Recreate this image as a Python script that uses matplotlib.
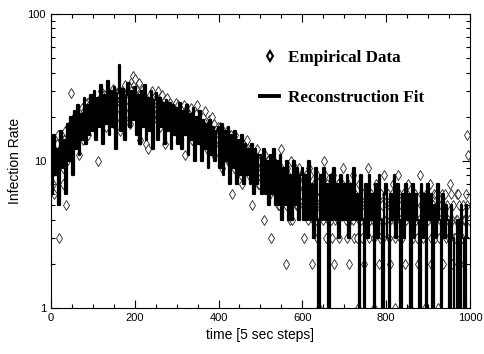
import numpy as np
import matplotlib
matplotlib.use("Agg")
import matplotlib.pyplot as plt
from matplotlib.ticker import LogLocator, NullFormatter, MultipleLocator

# empirical infection counts, every 2nd step
empirical = [
    8, 11, 12, 7, 6, 9, 10, 13, 15, 9, 3, 12, 11, 14, 9, 7, 14, 16, 5, 10,
    17, 13, 12, 15, 29, 16, 18, 20, 13, 17, 16, 14, 20, 22, 11, 19, 19, 23, 14, 21,
    22, 18, 17, 25, 15, 20, 24, 26, 19, 21,
    21, 23, 25, 19, 18, 24, 10, 22, 23, 27, 30, 25, 20, 28, 26, 21, 17, 29, 28, 24,
    24, 20, 22, 26, 31, 18, 19, 27, 25, 29, 29, 23, 16, 25, 27, 30, 23, 19, 33, 28,
    21, 24, 26, 32, 18, 22, 30, 35, 38, 33,
    36, 31, 22, 26, 27, 34, 14, 29, 25, 23, 31, 27, 20, 26, 13, 24, 12, 22, 28, 25,
    23, 30, 19, 27, 26, 21, 21, 24, 30, 26, 17, 22, 24, 28, 22, 19, 13, 23, 27, 20,
    20, 24, 25, 18, 18, 22, 23, 20, 21, 25,
    19, 22, 24, 21, 16, 20, 22, 18, 20, 24, 11, 19, 23, 20, 18, 16, 21, 23, 14, 19,
    20, 17, 17, 21, 24, 19, 15, 18, 19, 14, 13, 20, 18, 16, 22, 15, 12, 17, 17, 19,
    15, 13, 20, 16, 11, 18, 16, 14, 14, 17,
    13, 15, 17, 12, 9, 16, 15, 11, 12, 14, 16, 10, 10, 13, 14, 15, 6, 11, 12, 9,
    15, 13, 9, 12, 13, 11, 11, 8, 7, 10, 12, 13, 10, 9, 14, 11, 8, 12, 11, 10,
    5, 9, 10, 8, 9, 11, 12, 7, 7, 10,
    10, 9, 8, 7, 4, 9, 11, 8, 7, 10, 9, 6, 3, 8, 8, 10, 10, 7, 6, 9,
    9, 5, 5, 8, 12, 9, 7, 6, 8, 7, 2, 5, 9, 8, 6, 4, 10, 7, 4, 6,
    7, 9, 8, 5, 5, 7, 9, 6, 6, 8,
    7, 5, 3, 6, 8, 7, 5, 4, 9, 8, 6, 5, 2, 4, 7, 6, 4, 3, 8, 5,
    1, 5, 6, 7, 5, 4, 10, 8, 3, 5, 7, 4, 6, 5, 4, 3, 8, 6, 2, 4,
    5, 6, 7, 4, 3, 5, 6, 7, 9, 5,
    5, 6, 4, 3, 7, 5, 2, 4, 6, 5, 8, 4, 3, 6, 5, 3, 1, 4, 7, 5,
    4, 3, 6, 5, 2, 4, 5, 6, 9, 5, 3, 4, 6, 5, 4, 3, 1, 4, 7, 6,
    5, 4, 2, 3, 6, 5, 3, 4, 8, 6,
    4, 5, 6, 3, 2, 4, 5, 6, 7, 4, 1, 3, 4, 5, 8, 6, 3, 4, 5, 3,
    6, 5, 2, 4, 4, 6, 7, 5, 1, 4, 5, 3, 3, 4, 6, 5, 4, 3, 2, 4,
    8, 6, 5, 4, 3, 5, 1, 4, 6, 5,
    4, 5, 7, 3, 2, 4, 5, 6, 3, 4, 6, 5, 1, 3, 4, 5, 5, 6, 2, 4,
    6, 4, 3, 5, 4, 3, 7, 6, 2, 4, 5, 3, 3, 4, 4, 6, 6, 5, 2, 3,
    3, 4, 5, 4, 4, 6, 15, 5, 11, 4,
]
t_emp = np.arange(0, 1000, 2)
assert len(empirical) == len(t_emp)

# reconstructed rate, every 4th step
fit = [
    13, 6, 15, 8, 12, 5, 16, 9, 14, 6, 18, 10, 20, 8, 22, 12, 24, 11, 21, 14, 27, 13, 24, 15, 28,
    16, 30, 14, 27, 17, 33, 13, 28, 18, 35, 15, 30, 17, 32, 12, 29, 45, 16, 31, 14, 28, 34, 17, 30, 19,
    32, 15, 28, 13, 30, 17, 33, 14, 27, 16, 30, 12, 26, 29, 14, 27, 17, 25, 13, 26, 16, 25, 12, 24, 15,
    23, 13, 25, 12, 22, 15, 24, 11, 21, 14, 23, 10, 20, 13, 22, 10, 19, 12, 18, 9, 19, 11, 17, 10, 16,
    17, 9, 18, 8, 16, 10, 17, 7, 15, 9, 16, 7, 14, 8, 15, 7, 13, 8, 12, 7, 13, 6, 12, 7, 11,
    11, 6, 12, 6, 10, 5, 11, 6, 12, 5, 10, 5, 11, 4, 9, 5, 10, 4, 8, 4, 10, 5, 9, 4, 8,
    9, 4, 8, 4, 10, 4, 7, 3, 9, 4, 0, 8, 4, 9, 4, 7, 0, 8, 4, 9, 4, 7, 3, 8, 4,
    7, 4, 8, 3, 7, 4, 9, 4, 6, 0, 8, 4, 0, 7, 3, 8, 4, 6, 0, 7, 3, 8, 4, 0, 6,
    7, 3, 0, 6, 4, 8, 3, 7, 4, 0, 6, 3, 7, 4, 6, 0, 7, 3, 6, 4, 0, 7, 3, 6, 0,
    7, 4, 6, 0, 5, 3, 7, 4, 0, 6, 3, 5, 4, 0, 5, 3, 0, 0, 4, 0, 5, 3, 0, 5, 3,
]
t_fit = np.arange(0, 1000, 4)

fig = plt.figure(figsize=(4.85, 3.54), dpi=100)
ax = fig.add_axes([0.105, 0.130, 0.864, 0.830])

ax.plot(t_emp, empirical, linestyle='None', marker='d', markersize=5.2, mfc='white', mec='#222222',
        mew=0.6, label='Empirical Data', zorder=1)
ax.plot(t_fit, fit, color='black', lw=1.6, drawstyle='steps-mid', label='Reconstruction Fit', zorder=2)

ax.set_yscale('log')
ax.set_xlim(0, 1000)
ax.set_ylim(1, 100)

ax.xaxis.set_major_locator(MultipleLocator(200))
ax.xaxis.set_minor_locator(MultipleLocator(50))
ax.yaxis.set_minor_locator(LogLocator(subs=np.arange(2, 10)))
ax.yaxis.set_minor_formatter(NullFormatter())
ax.set_yticks([1, 10, 100])
ax.set_yticklabels(['1', '10', '100'])

ax.tick_params(which='both', direction='in', top=True, right=True, labelsize=8, width=0.8)
ax.tick_params(which='major', length=6)
ax.tick_params(which='minor', length=3)
for s in ax.spines.values():
    s.set_linewidth(0.8)

ax.set_xlabel('time [5 sec steps]', fontsize=10, family='Liberation Sans')
ax.set_ylabel('Infection Rate', fontsize=10, family='Liberation Sans')
for lbl in ax.get_xticklabels() + ax.get_yticklabels():
    lbl.set_family('Liberation Sans')

leg = ax.legend(loc='center left', bbox_to_anchor=(0.50, 0.784),
                frameon=False, labelspacing=1.4, handlelength=1.1, handletextpad=0.5,
                borderpad=0, borderaxespad=0,
                prop={'family': 'Liberation Serif', 'weight': 'bold', 'size': 12.3})
leg.get_lines()[0].set_markeredgewidth(1.5)
leg.get_lines()[0].set_markeredgecolor('black')
leg.get_lines()[1].set_linewidth(2.8)

fig.savefig('out.png', dpi=100)
